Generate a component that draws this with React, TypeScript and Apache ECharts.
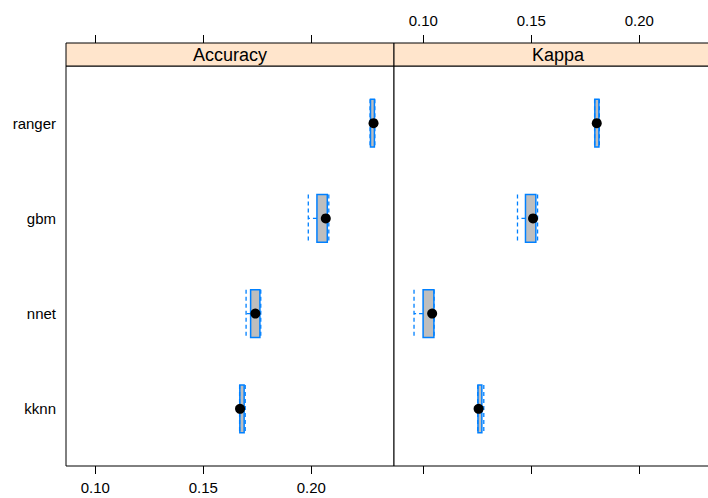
import React, { useEffect, useRef } from "react";
import * as echarts from "echarts";

const categories = ["kknn", "nnet", "gbm", "ranger"];
const panelNames = ["Accuracy", "Kappa"];
const tickValues = [0.1, 0.15, 0.2];
// [lower whisker, Q1, median, Q3, upper whisker] per model, same order as categories
const accuracyStats = [
  [0.1668, 0.1669, 0.167, 0.1689, 0.1694],
  [0.1698, 0.1719, 0.1741, 0.1762, 0.1766],
  [0.1986, 0.2026, 0.2067, 0.2074, 0.2081],
  [0.2272, 0.2274, 0.2288, 0.2292, 0.2294],
];
const kappaStats = [
  [0.1252, 0.1253, 0.1256, 0.1271, 0.128],
  [0.0957, 0.0999, 0.1041, 0.1049, 0.105],
  [0.1436, 0.1473, 0.1508, 0.1521, 0.1529],
  [0.1793, 0.1794, 0.1803, 0.1813, 0.1815],
];

const X_MIN = 0.08643;
const X_MAX = 0.23828;
const FONT = "'Liberation Sans', Arial, Helvetica, sans-serif";
const BLUE = "#0080FF";

function renderBox(params: any, api: any) {
  const yv = api.value(5);
  const lo = api.coord([api.value(0), yv]);
  const q1 = api.coord([api.value(1), yv]);
  const med = api.coord([api.value(2), yv]);
  const q3 = api.coord([api.value(3), yv]);
  const hi = api.coord([api.value(4), yv]);
  const cy = q1[1];
  const h = api.size([0, 0.5])[1];
  const half = h / 2;
  const dash = { stroke: BLUE, lineWidth: 1.3, lineDash: [4, 3], fill: null };
  return {
    type: "group",
    children: [
      {
        type: "rect",
        shape: { x: q1[0], y: cy - half, width: q3[0] - q1[0], height: h },
        style: { fill: "#BEBEBE", stroke: BLUE, lineWidth: 1.5 },
      },
      { type: "line", shape: { x1: q1[0], y1: cy, x2: lo[0], y2: cy }, style: dash },
      { type: "line", shape: { x1: q3[0], y1: cy, x2: hi[0], y2: cy }, style: dash },
      { type: "line", shape: { x1: lo[0], y1: cy - half, x2: lo[0], y2: cy + half }, style: dash },
      { type: "line", shape: { x1: hi[0], y1: cy - half, x2: hi[0], y2: cy + half }, style: dash },
      { type: "circle", shape: { cx: med[0], cy, r: 5 }, style: { fill: "#000" } },
    ],
  };
}

export default function App() {
  const ref = useRef<HTMLDivElement>(null);
  useEffect(() => {
    if (!ref.current) return;
    const chart = echarts.init(ref.current, null, { renderer: "svg" });
    const left = [66, 394];
    const width = 328;
    const top = 66;
    const height = 400;
    const grids = left.map((l) => ({
      left: l,
      top,
      width,
      height,
      show: true,
      borderColor: "#000",
      borderWidth: 1,
      backgroundColor: "#fff",
    }));
    const xAxes: any[] = [];
    [0, 1].forEach((g) => {
      // bottom axis
      xAxes.push({
        type: "value",
        gridIndex: g,
        position: "bottom",
        min: X_MIN,
        max: X_MAX,
        axisLine: { show: false },
        splitLine: { show: false },
        axisTick: { show: true, length: 8, customValues: tickValues, lineStyle: { color: "#000" } },
        axisLabel: {
          show: g === 0,
          customValues: tickValues,
          formatter: (v: number) => v.toFixed(2),
          color: "#000",
          fontSize: 15,
          fontFamily: FONT,
          margin: 14,
        },
      });
      // top axis (above strip)
      xAxes.push({
        type: "value",
        gridIndex: g,
        position: "top",
        offset: 23,
        min: X_MIN,
        max: X_MAX,
        axisLine: { show: false },
        splitLine: { show: false },
        axisTick: { show: true, length: 8, customValues: tickValues, lineStyle: { color: "#000" } },
        axisLabel: {
          show: g === 1,
          customValues: tickValues,
          formatter: (v: number) => v.toFixed(2),
          color: "#000",
          fontSize: 15,
          fontFamily: FONT,
          margin: 15,
        },
      });
    });
    const yAxes = [0, 1].map((g) => ({
      type: "value",
      gridIndex: g,
      min: 0.4,
      max: 4.6,
      axisLine: { show: false },
      axisTick: { show: false },
      splitLine: { show: false },
      axisLabel: {
        show: g === 0,
        customValues: [1, 2, 3, 4],
        formatter: (v: number) => categories[Math.round(v) - 1] ?? "",
        color: "#000",
        fontSize: 15,
        fontFamily: FONT,
        margin: 10,
      },
    }));
    const toData = (stats: number[][]) => stats.map((s, i) => [...s, i + 1]);
    const series = [accuracyStats, kappaStats].map((stats, g) => ({
      type: "custom",
      xAxisIndex: g * 2,
      yAxisIndex: g,
      renderItem: renderBox,
      encode: { x: [0, 1, 2, 3, 4], y: 5 },
      data: toData(stats),
      clip: false,
      z: 5,
    }));
    const graphic: any[] = [];
    panelNames.forEach((name, g) => {
      graphic.push({
        type: "rect",
        shape: { x: left[g], y: 43, width: g === 0 ? width : width + 20, height: 23 },
        style: { fill: "#FFE5CC", stroke: "#000", lineWidth: 1 },
        z: 10,
      });
      graphic.push({
        type: "text",
        x: left[g] + width / 2,
        y: 54.5,
        style: {
          text: name,
          fill: "#000",
          fontSize: 18,
          fontFamily: FONT,
          textAlign: "center",
          textVerticalAlign: "middle",
        },
        z: 11,
      });
    });
    chart.setOption({
      animation: false,
      backgroundColor: "#fff",
      grid: grids,
      xAxis: xAxes,
      yAxis: yAxes,
      series,
      graphic,
    });
    return () => chart.dispose();
  }, []);
  return (
    <div style={{ position: "fixed", left: 0, top: 0, width: 708, height: 498, overflow: "hidden", background: "#fff" }}>
      <div ref={ref} style={{ width: 740, height: 498 }} />
    </div>
  );
}
